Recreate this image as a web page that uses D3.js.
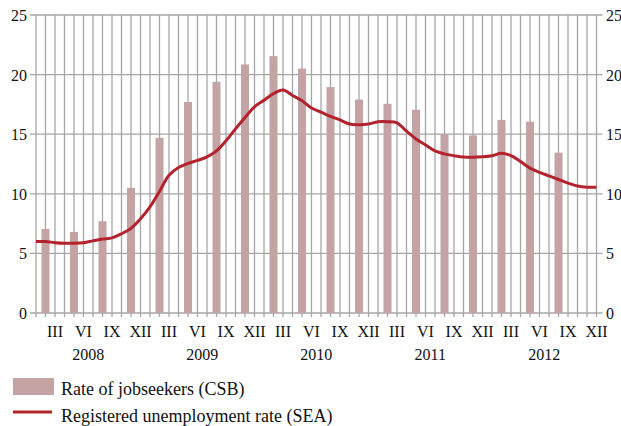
<!DOCTYPE html>
<html>
<head>
<meta charset="utf-8">
<script src="https://cdn.jsdelivr.net/npm/d3@7"></script>
<style>
  html, body { margin: 0; padding: 0; background: #fff; }
</style>
</head>
<body>
<svg id="chart" width="621" height="426"></svg>
<script>
// Monthly axis: Jan 2008 .. Dec 2012
const years = ["2008", "2009", "2010", "2011", "2012"];
const quarterLabels = ["III", "VI", "IX", "XII"];

// Registered unemployment rate (SEA), monthly, %
const seaRate = [
  6.0, 6.0, 5.9, 5.85, 5.85, 5.9, 6.05, 6.2, 6.3, 6.65, 7.1, 7.9,
  8.9, 10.2, 11.55, 12.2, 12.55, 12.8, 13.1, 13.6, 14.45, 15.45, 16.4, 17.3,
  17.85, 18.4, 18.7, 18.25, 17.8, 17.2, 16.85, 16.5, 16.2, 15.85, 15.8, 15.85,
  16.05, 16.05, 15.95, 15.25, 14.6, 14.1, 13.6, 13.35, 13.2, 13.08, 13.06, 13.1,
  13.2, 13.4, 13.2, 12.7, 12.15, 11.8, 11.5, 11.2, 10.9, 10.65, 10.55, 10.55
];

// Rate of jobseekers (CSB), quarterly (Q1 2008 .. Q3 2012), %
const csbRate = [
  7.05, 6.8, 7.7, 10.5,
  14.7, 17.7, 19.4, 20.85,
  21.55, 20.5, 18.95, 17.9,
  17.55, 17.05, 15.0, 14.9,
  16.2, 16.05, 13.45
];

const yTicks = [0, 5, 10, 15, 20, 25];

const serif = '"Liberation Serif", "Times New Roman", Times, serif';
const svg = d3.select("#chart")
  .attr("font-family", serif);
const plotLeft = 36, plotRight = 596.5, plotTop = 15, plotBottom = 313;

const months = d3.range(seaRate.length);
const x = d3.scaleLinear().domain([0, months.length - 1]).range([plotLeft, plotRight]);
const y = d3.scaleLinear().domain([0, 25]).range([plotBottom, plotTop]);

const gridColor = "#a6a6a6";

// horizontal gridlines with ticks on both sides
svg.append("g").selectAll("line").data(yTicks).join("line")
  .attr("x1", plotLeft - 6).attr("x2", plotRight + 6)
  .attr("y1", d => y(d)).attr("y2", d => y(d))
  .attr("stroke", gridColor).attr("stroke-width", 1.3);

// vertical gridlines, one per month, extending below the baseline as ticks
svg.append("g").selectAll("line").data(months).join("line")
  .attr("x1", d => x(d)).attr("x2", d => x(d))
  .attr("y1", plotTop).attr("y2", plotBottom + 4)
  .attr("stroke", gridColor).attr("stroke-width", 1.3);

// y axis labels, left and right
const yAxisL = d3.axisLeft(y).tickValues(yTicks).tickSize(0).tickPadding(0);
const gL = svg.append("g").attr("transform", `translate(${plotLeft - 9},0)`).call(yAxisL);
const yAxisR = d3.axisRight(y).tickValues(yTicks).tickSize(0).tickPadding(0);
const gR = svg.append("g").attr("transform", `translate(${plotRight + 9.5},0)`).call(yAxisR);
[gL, gR].forEach(g => {
  g.attr("font-family", serif).attr("font-size", 16);
  g.select(".domain").remove();
  g.selectAll("text").attr("dy", "0.34em").attr("fill", "#111");
});

// quarterly bars centred on the middle month of each quarter
svg.append("g").selectAll("rect").data(csbRate).join("rect")
  .attr("x", (d, i) => x(i * 3 + 1) - 4)
  .attr("width", 8)
  .attr("y", d => y(d))
  .attr("height", d => y(0) - y(d))
  .attr("fill", "#c3a3a4");

// smoothed monthly line
const line = d3.line()
  .x((d, i) => x(i))
  .y(d => y(d))
  .curve(d3.curveCatmullRom.alpha(0.5));
svg.append("path").datum(seaRate)
  .attr("d", line)
  .attr("fill", "none")
  .attr("stroke", "#b3222d")
  .attr("stroke-width", 3)
  .attr("stroke-linejoin", "round");

// month labels (III, VI, IX, XII)
const monthTicks = months.filter(m => m % 3 === 2);
svg.append("g").selectAll("text").data(monthTicks).join("text")
  .attr("x", d => x(d))
  .attr("y", 337)
  .attr("text-anchor", "middle")
  .attr("font-size", 16)
  .attr("fill", "#111")
  .text(d => quarterLabels[((d + 1) / 3 - 1) % 4]);

// year labels centred under each year's months
svg.append("g").selectAll("text").data(years).join("text")
  .attr("x", (d, i) => (x(i * 12) + x(i * 12 + 11)) / 2)
  .attr("y", 360)
  .attr("text-anchor", "middle")
  .attr("font-size", 16)
  .attr("fill", "#111")
  .text(d => d);

// legend
const legend = svg.append("g").attr("font-size", 18).attr("fill", "#111");
legend.append("rect").attr("x", 13).attr("y", 378).attr("width", 41).attr("height", 17).attr("fill", "#c3a3a4");
legend.append("text").attr("x", 61).attr("y", 395).text("Rate of jobseekers (CSB)");
legend.append("line").attr("x1", 13).attr("x2", 52).attr("y1", 412).attr("y2", 412)
  .attr("stroke", "#b3222d").attr("stroke-width", 3);
legend.append("text").attr("x", 61).attr("y", 421.5).text("Registered unemployment rate (SEA)");
</script>
</body>
</html>
